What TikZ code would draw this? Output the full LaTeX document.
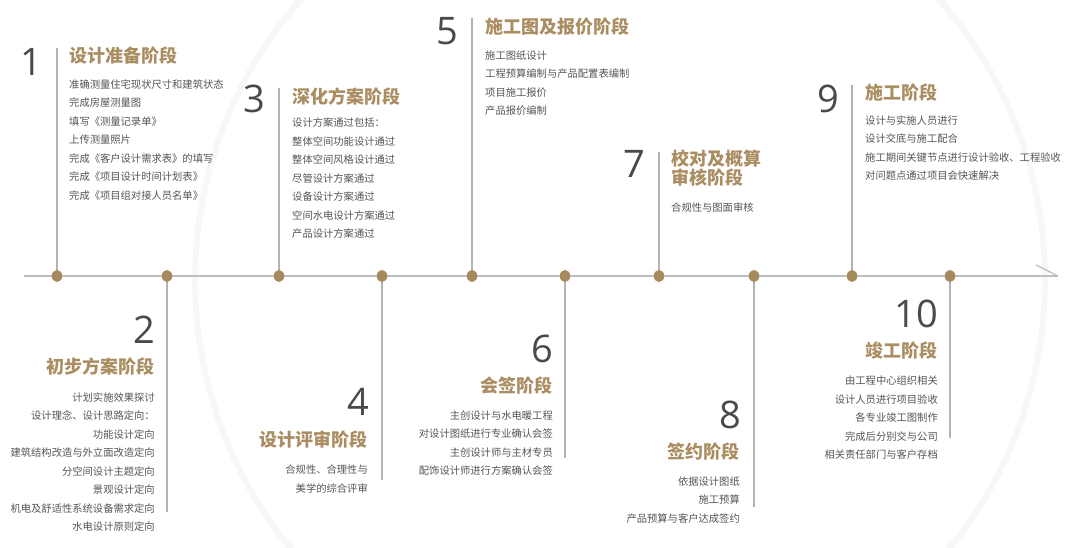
\documentclass[tikz,border=0pt]{standalone}
\usepackage{fontspec}
\setmainfont{Noto Sans CJK SC}
\newfontfamily\numfont{Open Sans}
\definecolor{dotc}{HTML}{A68A5E}
\definecolor{titc}{HTML}{AB8D62}
\definecolor{linec}{HTML}{BDBDBD}
\definecolor{vlc}{HTML}{B3B3B3}
\definecolor{numc}{HTML}{4A4A4A}
\definecolor{bodyc}{HTML}{555555}
\tikzset{
  dotnode/.style={ellipse,fill=dotc,minimum width=10.5pt,minimum height=12pt,inner sep=0pt},
  vline/.style={draw=vlc,line width=1.1pt},
  tline/.style={draw=linec,line width=1.6pt},
  numtxt/.style={inner sep=0pt,text=numc,font=\numfont\fontsize{38}{38}\selectfont},
  titletxt/.style={inner sep=0pt,text=titc,font=\bfseries\fontsize{18}{20}\selectfont},
  bodytxt/.style={inner sep=0pt,text=bodyc,font=\fontsize{10.3}{18.5}\selectfont},
  bodyL/.style={bodytxt,align=left,anchor=north west},
  bodyR/.style={bodytxt,align=right,anchor=north east},
}
\usetikzlibrary{shapes.geometric}
\begin{document}
\begin{tikzpicture}[x=1pt,y=-1pt]
\useasboundingbox (0,0) rectangle (1080,548);
\fill[white] (0,0) rectangle (1080,548);
\draw[black!3,line width=6pt] (620,280) circle (425);
% timeline
\coordinate (ls) at (24,276);
\coordinate (le) at (1058,276);
\coordinate (ab) at (1036,265);
\draw[tline] (ls) -- (le);
\draw[tline,line width=1.2pt] (le) -- (ab);
% vertical line ends
\coordinate (t1) at (57,48);
\coordinate (t2) at (167,512);
\coordinate (t3) at (279,88);
\coordinate (t4) at (382,480);
\coordinate (t5) at (472,18);
\coordinate (t6) at (565,458);
\coordinate (t7) at (659,152);
\coordinate (t8) at (754,507);
\coordinate (t9) at (852,85);
\coordinate (t10) at (950,438);
\foreach \i/\x in {1/57,2/167,3/279,4/382,5/472,6/565,7/659,8/754,9/852,10/950}{
  \coordinate (b\i) at (\x,276);
  \draw[vline] (b\i) -- (t\i);
}
\foreach \i/\x in {1/57,2/167,3/279,4/382,5/472,6/565,7/659,8/754,9/852,10/950}{
  \node[dotnode] (d\i) at (\x,276) {};
}
% stage 1
\node[numtxt,anchor=east] (n1) at (42,62) {1};
\node[titletxt,anchor=west] (h1) at (69,56) {设计准备阶段};
\node[bodyL] (p1) at (69,79.5) {准确测量住宅现状尺寸和建筑状态\\完成房屋测量图\\填写《测量记录单》\\上传测量照片\\完成《客户设计需求表》的填写\\完成《项目设计时间计划表》\\完成《项目组对接人员名单》};
% stage 3
\node[numtxt,anchor=east] (n3) at (265,99) {3};
\node[titletxt,anchor=west] (h3) at (292,97) {深化方案阶段};
\node[bodyL] (p3) at (292,118) {设计方案通过包括：\\整体空间功能设计通过\\整体空间风格设计通过\\尽管设计方案通过\\设备设计方案通过\\空间水电设计方案通过\\产品设计方案通过};
% stage 5
\node[numtxt,anchor=east] (n5) at (458,31) {5};
\node[titletxt,anchor=west] (h5) at (485,27) {施工图及报价阶段};
\node[bodyL] (p5) at (485,50.5) {施工图纸设计\\工程预算编制与产品配置表编制\\项目施工报价\\产品报价编制};
% stage 7
\node[numtxt,anchor=east] (n7) at (645,164) {7};
\node[titletxt,anchor=west,align=left,font=\bfseries\fontsize{18}{18.5}\selectfont] (h7) at (671,168) {校对及概算\\审核阶段};
\node[bodyL] (p7) at (671,203) {合规性与图面审核};
% stage 9
\node[numtxt,anchor=east] (n9) at (839,99) {9};
\node[titletxt,anchor=west] (h9) at (865,93) {施工阶段};
\node[bodyL] (p9) at (865,115.5) {设计与实施人员进行\\设计交底与施工配合\\施工期间关键节点进行设计验收、工程验收\\对问题点通过项目会快速解决};
% stage 2
\node[numtxt,anchor=east] (n2) at (155,330) {2};
\node[titletxt,anchor=east] (h2) at (155,367) {初步方案阶段};
\node[bodyR] (p2) at (155,392.5) {计划实施效果探讨\\设计理念、设计思路定向：\\功能设计定向\\建筑结构改造与外立面改造定向\\分空间设计主题定向\\景观设计定向\\机电及舒适性系统设备需求定向\\水电设计原则定向};
% stage 4
\node[numtxt,anchor=east] (n4) at (369,402) {4};
\node[titletxt,anchor=east] (h4) at (368,440) {设计评审阶段};
\node[bodyR] (p4) at (368,465) {合规性、合理性与\\美学的综合评审};
% stage 6
\node[numtxt,anchor=east] (n6) at (553,349) {6};
\node[titletxt,anchor=east] (h6) at (553,386) {会签阶段};
\node[bodyR] (p6) at (553,410.5) {主创设计与水电暖工程\\对设计图纸进行专业确认会签\\主创设计师与主材专员\\配饰设计师进行方案确认会签};
% stage 8
\node[numtxt,anchor=east] (n8) at (741,415) {8};
\node[titletxt,anchor=east] (h8) at (740,452) {签约阶段};
\node[bodyR] (p8) at (740,476.5) {依据设计图纸\\施工预算\\产品预算与客户达成签约};
% stage 10
\node[numtxt,anchor=east] (n10) at (938,314) {10};
\node[titletxt,anchor=east] (h10) at (938,351) {竣工阶段};
\node[bodyR] (p10) at (938,376) {由工程中心组织相关\\设计人员进行项目验收\\各专业竣工图制作\\完成后分别交与公司\\相关责任部门与客户存档};
\end{tikzpicture}
\end{document}
